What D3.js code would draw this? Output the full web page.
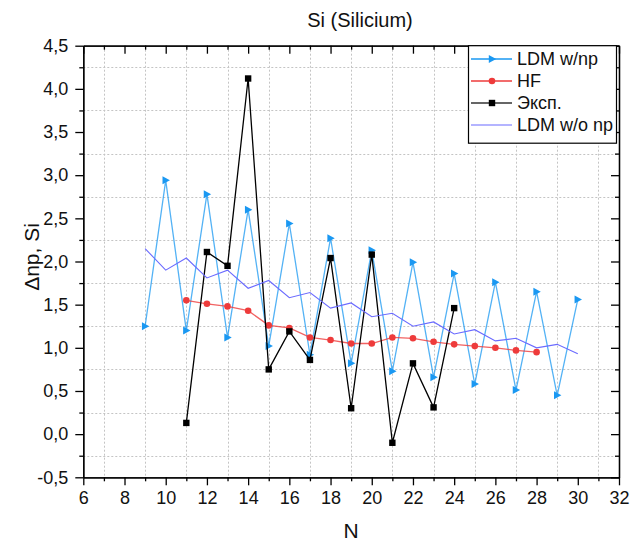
<!DOCTYPE html>
<html>
<head>
<meta charset="utf-8">
<script src="https://cdn.jsdelivr.net/npm/d3@7"></script>
<style>
  html, body { margin: 0; padding: 0; background: #fff; }
  svg { display: block; font-family: Arial, "Liberation Sans", sans-serif; }
</style>
</head>
<body>
<svg id="chart" width="630" height="541"></svg>
<script>
// Series data: proton-neutron pairing energy for Si isotopes
const nLdm = [9, 10, 11, 12, 13, 14, 15, 16, 17, 18, 19, 20, 21, 22, 23, 24, 25, 26, 27, 28, 29, 30];
const ldmWithNp = [1.25, 2.94, 1.20, 2.78, 1.12, 2.60, 1.02, 2.44, 0.92, 2.27, 0.82, 2.13, 0.73, 1.99, 0.66, 1.86, 0.58, 1.76, 0.51, 1.65, 0.45, 1.56];
const ldmWithoutNp = [2.15, 1.90, 2.04, 1.81, 1.90, 1.69, 1.78, 1.58, 1.64, 1.46, 1.52, 1.36, 1.40, 1.25, 1.30, 1.16, 1.21, 1.08, 1.11, 1.00, 1.04, 0.93];

const nHf = [11, 12, 13, 14, 15, 16, 17, 18, 19, 20, 21, 22, 23, 24, 25, 26, 27, 28];
const hfValues = [1.55, 1.51, 1.48, 1.43, 1.26, 1.23, 1.12, 1.09, 1.05, 1.05, 1.12, 1.11, 1.07, 1.04, 1.02, 1.00, 0.97, 0.95];

const nExp = [11, 12, 13, 14, 15, 16, 17, 18, 19, 20, 21, 22, 23, 24];
const expValues = [0.13, 2.11, 1.95, 4.12, 0.75, 1.19, 0.86, 2.04, 0.30, 2.08, -0.10, 0.82, 0.31, 1.46];

const xTicks = [6, 8, 10, 12, 14, 16, 18, 20, 22, 24, 26, 28, 30, 32];
const xMinorTicks = [7, 9, 11, 13, 15, 17, 19, 21, 23, 25, 27, 29, 31];
const yTicks = [-0.5, 0, 0.5, 1, 1.5, 2, 2.5, 3, 3.5, 4, 4.5];
const yMinorTicks = [-0.25, 0.25, 0.75, 1.25, 1.75, 2.25, 2.75, 3.25, 3.75, 4.25];

const seriesNames = ["LDM w/np", "HF", "Эксп.", "LDM w/o np"];

const svg = d3.select("#chart");
const plotL = 83.3, plotR = 619, plotT = 45.7, plotB = 477.3;

const x = d3.scaleLinear().domain([6, 32]).range([plotL, plotR]);
const y = d3.scaleLinear().domain([-0.5, 4.5]).range([plotB, plotT]);

const ruLocale = d3.formatLocale({ decimal: ",", thousands: " ", grouping: [3], currency: ["", ""], minus: "-" });
const yFmt = ruLocale.format(".1f");

// dashed grid on the minor tick positions
const grid = svg.append("g").attr("stroke", "#c4c4c4").attr("stroke-width", 1).attr("stroke-dasharray", "2,2");
grid.selectAll("line.v").data(xMinorTicks).join("line").attr("class", "v")
  .attr("x1", d => Math.round(x(d)) + 0.5).attr("x2", d => Math.round(x(d)) + 0.5)
  .attr("y1", plotT).attr("y2", plotB);
grid.selectAll("line.h").data(yMinorTicks).join("line").attr("class", "h")
  .attr("y1", d => Math.round(y(d)) + 0.5).attr("y2", d => Math.round(y(d)) + 0.5)
  .attr("x1", plotL).attr("x2", plotR);

// axes
function styleAxis(g) {
  g.selectAll("path.domain").attr("stroke", "#000").attr("stroke-width", 1.3);
  g.selectAll(".tick line").attr("stroke", "#000").attr("stroke-width", 1.3);
  g.selectAll(".tick text").attr("fill", "#111").style("font-size", "18px")
    .style("font-family", "Arial, 'Liberation Sans', sans-serif");
}

const gBottom = svg.append("g").attr("transform", `translate(0,${plotB})`)
  .call(d3.axisBottom(x).tickValues(xTicks).tickSize(8).tickPadding(6).tickSizeOuter(0));
styleAxis(gBottom);
const gBottomMinor = svg.append("g").attr("transform", `translate(0,${plotB})`)
  .call(d3.axisBottom(x).tickValues(xMinorTicks).tickSize(4).tickFormat("").tickSizeOuter(0));
styleAxis(gBottomMinor);

const gTop = svg.append("g").attr("transform", `translate(0,${plotT})`)
  .call(d3.axisTop(x).tickValues(xTicks).tickSize(-8).tickFormat("").tickSizeOuter(0));
styleAxis(gTop);
const gTopMinor = svg.append("g").attr("transform", `translate(0,${plotT})`)
  .call(d3.axisTop(x).tickValues(xMinorTicks).tickSize(-4).tickFormat("").tickSizeOuter(0));
styleAxis(gTopMinor);

const gLeft = svg.append("g").attr("transform", `translate(${plotL},0)`)
  .call(d3.axisLeft(y).tickValues(yTicks).tickSize(8).tickPadding(7).tickFormat(yFmt).tickSizeOuter(0));
styleAxis(gLeft);
const gLeftMinor = svg.append("g").attr("transform", `translate(${plotL},0)`)
  .call(d3.axisLeft(y).tickValues(yMinorTicks).tickSize(4).tickFormat("").tickSizeOuter(0));
styleAxis(gLeftMinor);

const gRight = svg.append("g").attr("transform", `translate(${plotR},0)`)
  .call(d3.axisRight(y).tickValues(yTicks).tickSize(-8).tickFormat("").tickSizeOuter(0));
styleAxis(gRight);
const gRightMinor = svg.append("g").attr("transform", `translate(${plotR},0)`)
  .call(d3.axisRight(y).tickValues(yMinorTicks).tickSize(-4).tickFormat("").tickSizeOuter(0));
styleAxis(gRightMinor);

// series
const colors = { ldm: "#1A98F2", hf: "#EE3B3B", exp: "#000000", ldm0: "#6A6AFF" };
const line = d3.line().x(d => x(d[0])).y(d => y(d[1]));

const ldmPts = d3.zip(nLdm, ldmWithNp);
const hfPts = d3.zip(nHf, hfValues);
const expPts = d3.zip(nExp, expValues);
const ldm0Pts = d3.zip(nLdm, ldmWithoutNp);

const tri = "M-3.2,-4 L4.2,0 L-3.2,4 Z";

function drawLdm(g, pts) {
  g.append("path").datum(pts).attr("d", line).attr("fill", "none")
    .attr("stroke", colors.ldm).attr("stroke-opacity", 0.75).attr("stroke-width", 1.3);
  g.selectAll("path.m").data(pts).join("path").attr("class", "m")
    .attr("d", tri).attr("transform", d => `translate(${x(d[0])},${y(d[1])})`)
    .attr("fill", colors.ldm);
}
function drawHf(g, pts) {
  g.append("path").datum(pts).attr("d", line).attr("fill", "none")
    .attr("stroke", colors.hf).attr("stroke-opacity", 0.8).attr("stroke-width", 1.3);
  g.selectAll("circle").data(pts).join("circle")
    .attr("cx", d => x(d[0])).attr("cy", d => y(d[1])).attr("r", 3.3).attr("fill", colors.hf);
}
function drawExp(g, pts) {
  g.append("path").datum(pts).attr("d", line).attr("fill", "none")
    .attr("stroke", colors.exp).attr("stroke-width", 1.3);
  g.selectAll("rect").data(pts).join("rect")
    .attr("x", d => x(d[0]) - 3.2).attr("y", d => y(d[1]) - 3.2)
    .attr("width", 6.4).attr("height", 6.4).attr("fill", colors.exp);
}
function drawLdm0(g, pts) {
  g.append("path").datum(pts).attr("d", line).attr("fill", "none")
    .attr("stroke", colors.ldm0).attr("stroke-width", 1.1);
}

drawLdm(svg.append("g"), ldmPts);
drawHf(svg.append("g"), hfPts);
drawExp(svg.append("g"), expPts);
drawLdm0(svg.append("g"), ldm0Pts);

// legend
const lg = svg.append("g");
lg.append("rect").attr("x", 468.5).attr("y", 45.7).attr("width", 148).attr("height", 97.5)
  .attr("fill", "#fff").attr("stroke", "#000").attr("stroke-width", 1.2);
const rowY = [59, 81, 103, 125];
const drawers = [
  (g, yy) => { g.append("line").attr("x1", 471).attr("x2", 512).attr("y1", yy).attr("y2", yy).attr("stroke", colors.ldm).attr("stroke-width", 1.3);
               g.append("path").attr("d", tri).attr("transform", `translate(492,${yy})`).attr("fill", colors.ldm); },
  (g, yy) => { g.append("line").attr("x1", 471).attr("x2", 512).attr("y1", yy).attr("y2", yy).attr("stroke", colors.hf).attr("stroke-width", 1.3);
               g.append("circle").attr("cx", 492).attr("cy", yy).attr("r", 3.3).attr("fill", colors.hf); },
  (g, yy) => { g.append("line").attr("x1", 471).attr("x2", 512).attr("y1", yy).attr("y2", yy).attr("stroke", "#333").attr("stroke-width", 1.3);
               g.append("rect").attr("x", 488.8).attr("y", yy - 3.2).attr("width", 6.4).attr("height", 6.4).attr("fill", colors.exp); },
  (g, yy) => { g.append("line").attr("x1", 471).attr("x2", 512).attr("y1", yy).attr("y2", yy).attr("stroke", colors.ldm0).attr("stroke-width", 1.1); }
];
seriesNames.forEach((name, i) => {
  const g = lg.append("g");
  drawers[i](g, rowY[i]);
  g.append("text").attr("x", 517).attr("y", rowY[i]).attr("dy", "0.35em")
    .style("font-size", "18px").attr("fill", "#111").text(name);
});

// titles
svg.append("text").attr("x", 360).attr("y", 27).attr("text-anchor", "middle")
  .style("font-size", "20px").attr("fill", "#111").text("Si (Silicium)");
svg.append("text").attr("x", 351).attr("y", 538).attr("text-anchor", "middle")
  .style("font-size", "21px").attr("fill", "#111").text("N");
svg.append("text").attr("transform", "translate(39,257) rotate(-90)").attr("text-anchor", "middle")
  .style("font-size", "21px").attr("fill", "#111").text("Δnp, Si");
</script>
</body>
</html>
